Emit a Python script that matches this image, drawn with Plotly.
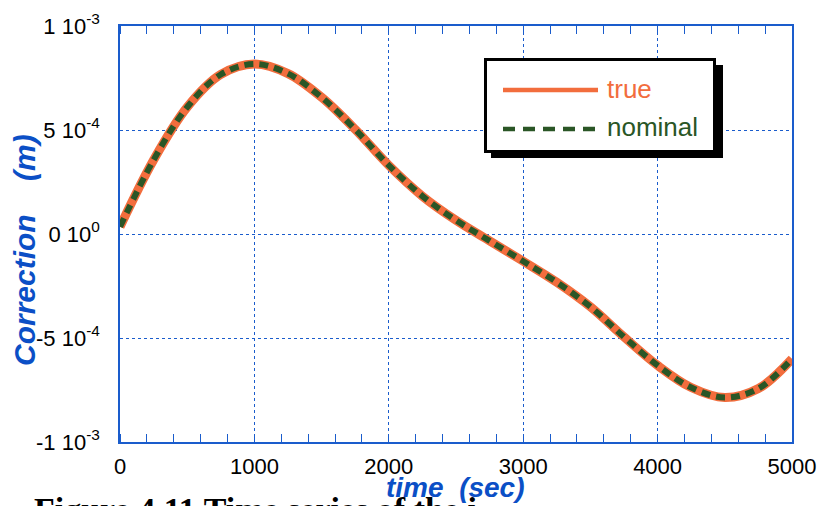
import plotly.graph_objects as go

# ---- data ----
time_s = [0, 250, 500, 750, 1000, 1250, 1500, 1750, 2000, 2250, 2500, 2750,
          3000, 3250, 3500, 3750, 4000, 4250, 4500, 4750, 5000]
corr_e4 = [0.35, 3.56, 6.1, 7.67, 8.17, 7.71, 6.57, 5.03, 3.30, 1.82, 0.66, -0.33,
           -1.31, -2.32, -3.5, -4.95, -6.32, -7.38, -7.86, -7.43, -6.0]
true_vals = [v * 1e-4 for v in corr_e4]
nominal_vals = [v * 1e-4 for v in corr_e4]

x_ticks = [0, 1000, 2000, 3000, 4000, 5000]
y_ticks = [1e-3, 5e-4, 0, -5e-4, -1e-3]
y_ticklabels = ["1 10<sup>-3</sup>", "5 10<sup>-4</sup>", "0 10<sup>0</sup>",
                "-5 10<sup>-4</sup>", "-1 10<sup>-3</sup>"]

ORANGE = "#F26D3D"
GREEN = "#2A5626"
BLUE = "#1A5CCC"
TITLE_BLUE = "#0B4FC6"
SANS = "Liberation Sans, Arial"

W, H = 822, 506
L, R, T, B = 120, 30, 26, 64
PW, PH = W - L - R, H - T - B


def px(x):
    return (x - L) / PW


def py(y):
    return (H - B - y) / PH


fig = go.Figure()
fig.add_trace(go.Scatter(x=time_s, y=true_vals, mode="lines", name="true",
                         line=dict(color=ORANGE, width=9, shape="spline", smoothing=1.0),
                         showlegend=False))
fig.add_trace(go.Scatter(x=time_s, y=nominal_vals, mode="lines", name="nominal",
                         line=dict(color=GREEN, width=6, shape="spline", smoothing=1.0,
                                   dash="9px,6px"),
                         showlegend=False))

axis_common = dict(showline=True, linecolor=BLUE, linewidth=1.5, mirror="ticks",
                   showgrid=True, gridcolor=BLUE, gridwidth=1, griddash="dot",
                   zeroline=False, ticks="", automargin=False,
                   tickfont=dict(family=SANS, size=22, color="black"))

fig.update_xaxes(range=[0, 5000], tickvals=x_ticks, ticktext=[str(v) for v in x_ticks],
                 minor=dict(dtick=200, tickmode="linear", ticks="inside", ticklen=8,
                            tickcolor=BLUE, tickwidth=1, showgrid=False),
                 ticklabelstandoff=4,
                 **axis_common)
fig.update_yaxes(range=[-1e-3, 1e-3], tickvals=y_ticks, ticktext=y_ticklabels,
                 ticklabelstandoff=14,
                 **axis_common)

shapes = []
# legend shadow
shapes.append(dict(type="rect", xref="paper", yref="paper",
                   x0=px(491), x1=px(723), y0=py(158), y1=py(65),
                   fillcolor="black", line=dict(width=0), layer="above"))
# legend box
shapes.append(dict(type="rect", xref="paper", yref="paper",
                   x0=px(485.5), x1=px(714.5), y0=py(151.5), y1=py(59.5),
                   fillcolor="white", line=dict(color="black", width=3), layer="above"))
shapes.append(dict(type="line", xref="paper", yref="paper",
                   x0=px(503), x1=px(598), y0=py(90), y1=py(90),
                   line=dict(color=ORANGE, width=4.5), layer="above"))
shapes.append(dict(type="line", xref="paper", yref="paper",
                   x0=px(503), x1=px(598), y0=py(129), y1=py(129),
                   line=dict(color=GREEN, width=4.5, dash="12px,8px"), layer="above"))

annotations = [
    dict(text="true", xref="paper", yref="paper", x=px(605), y=py(89),
         xanchor="left", yanchor="middle", showarrow=False,
         font=dict(family=SANS, size=26, color=ORANGE)),
    dict(text="nominal", xref="paper", yref="paper", x=px(605), y=py(127),
         xanchor="left", yanchor="middle", showarrow=False,
         font=dict(family=SANS, size=26, color=GREEN)),
    dict(text="<b><i>Correction\u00a0\u00a0\u00a0\u00a0(m)</i></b>", xref="paper", yref="paper",
         x=px(24), y=py(250), xanchor="center", yanchor="middle", textangle=-90,
         showarrow=False, font=dict(family=SANS, size=30, color=TITLE_BLUE)),
    dict(text="<b>Figure 4.11 Time series of the i</b>", xref="paper", yref="paper",
         x=px(32), y=py(489), xanchor="left", yanchor="top", showarrow=False,
         font=dict(family="Liberation Serif, Times New Roman", size=34, color="black")),
    dict(text="<b><i>time\u00a0\u00a0(sec)</i></b>", xref="paper", yref="paper",
         x=px(455), y=py(487), xanchor="center", yanchor="middle",
         showarrow=False, font=dict(family=SANS, size=28, color=TITLE_BLUE)),
]

fig.update_layout(width=W, height=H, margin=dict(l=L, r=R, t=T, b=B),
                  paper_bgcolor="white", plot_bgcolor="white",
                  shapes=shapes, annotations=annotations, showlegend=False)

fig.write_html("out.html")
